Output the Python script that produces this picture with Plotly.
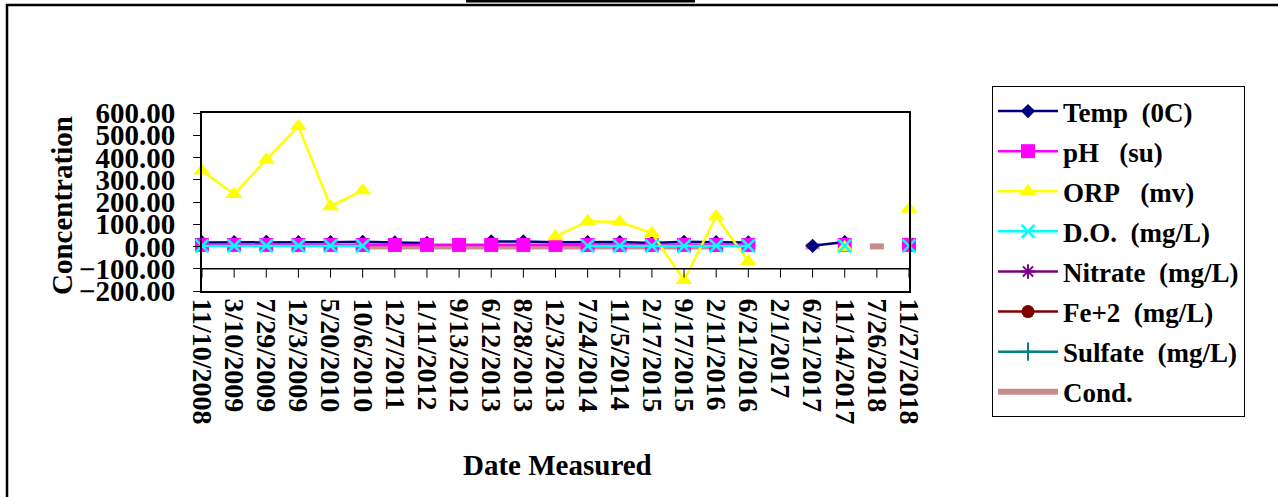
import plotly.graph_objects as go

# ---------------- data ----------------
dates = ["11/10/2008", "3/10/2009", "7/29/2009", "12/3/2009", "5/20/2010", "10/6/2010",
         "12/7/2011", "1/11/2012", "9/13/2012", "6/12/2013", "8/28/2013", "12/3/2013",
         "7/24/2014", "11/5/2014", "2/17/2015", "9/17/2015", "2/11/2016", "6/21/2016",
         "2/1/2017", "6/21/2017", "11/14/2017", "7/26/2018", "11/27/2018"]

temp = [18, 19, 21, 19, 19, 21, 18, 16, None, 23, 23, 19, 19, 20, 16, 21, 19, 18,
        None, 3, 20, None, None]
ph = [7.2, 7.0, 7.1, 7.0, 7.1, 7.0, 6.9, 7.0, 7.1, 7.0, 6.9, 7.0, 6.8, 6.9, 7.0, 7.1,
      6.9, 7.0, None, None, 7.0, None, 7.1]
orp = [340, 235, 390, 540, 180, 252, None, None, None, None, None, 45, 113, 110, 60,
       -152, 135, -67, None, None, -5, None, 168]
do = [2.5, 2.8, 3.0, 2.6, 2.9, 2.7, None, None, None, None, None, None, 2.5, 2.4, 2.6,
      2.2, 2.5, 2.8, None, None, 2.4, None, 2.6]
nitrate = [None] * len(dates)
fe2 = [None] * len(dates)
sulfate = [None] * len(dates)
cond = [None, None, None, None, None, 0.5, 0.5, 0.5, 0.5, 0.5, 0.5, 0.5, 0.5, 0.5, 0.5,
        0.5, 0.5, None, None, 0.5, None, 0.5, None]

y_ticks = [-200, -100, 0, 100, 200, 300, 400, 500, 600]

# ---------------- layout constants ----------------
W, H = 1278, 497
L, R, T, B = 202, 369, 113, 206
PW, PH = W - L - R, H - T - B


def px(x):
    return (x - L) / PW


def py(y):
    return (H - B - y) / PH


FONT = "Liberation Serif"

fig = go.Figure()


def add(name, y, color, symbol, size, rank, lw=2.5, mline=None, mode="lines+markers"):
    marker = dict(symbol=symbol, size=size, color=color)
    if mline is not None:
        marker["line"] = dict(color=color, width=mline)
    else:
        marker["line"] = dict(width=0)
    fig.add_trace(go.Scatter(
        x=dates, y=y, name=name, mode=mode,
        line=dict(color=color, width=lw),
        marker=marker, connectgaps=False, cliponaxis=False,
        legendgroup=name, legendrank=rank,
    ))


# Cond drawn first so the other series' markers sit on top of its thick line
add("Cond.", cond, "#C98C8C", "line-ew", 10, 8, lw=6, mline=6)
add("Temp\u00a0\u00a0(0C)", temp, "#000080", "diamond", 11, 1)
add("pH\u00a0\u00a0\u00a0(su)", ph, "#FF00FF", "square", 14, 2)
add("ORP\u00a0\u00a0\u00a0(mv)", orp, "#FFFF00", "triangle-up", 15, 3)
add("D.O.\u00a0\u00a0(mg/L)", do, "#00FFFF", "x-thin-open", 13, 4, mline=2.5)
add("Nitrate\u00a0\u00a0(mg/L)", nitrate, "#800080", "asterisk-open", 12, 5, mline=2)
add("Fe+2\u00a0\u00a0(mg/L)", fe2, "#800000", "circle", 13, 6)
add("Sulfate\u00a0\u00a0(mg/L)", sulfate, "#008080", "cross-thin-open", 13, 7, mline=2)

shapes = []
# horizontal category line at -100 with ticks hanging below
shapes.append(dict(type="line", xref="paper", yref="y", x0=0, x1=1, y0=-100, y1=-100,
                   line=dict(color="black", width=1.5)))
for d in dates:
    shapes.append(dict(type="line", xref="x", yref="y", x0=d, x1=d, y0=-100, y1=-140,
                       line=dict(color="black", width=1)))
# outer frame (top and left) and title underline
shapes.append(dict(type="line", xref="paper", yref="paper", x0=px(6), x1=px(W + 5),
                   y0=py(5), y1=py(5), line=dict(color="black", width=2.5)))
shapes.append(dict(type="line", xref="paper", yref="paper", x0=px(7), x1=px(7),
                   y0=py(4), y1=py(H + 5), line=dict(color="black", width=2.5)))
shapes.append(dict(type="rect", xref="paper", yref="paper", x0=px(466), x1=px(695),
                   y0=py(0), y1=py(2.5), fillcolor="black", line=dict(width=0)))

title_font = dict(family=FONT, size=29, color="black", weight="bold")
annotations = [
    dict(text="Concentration", xref="paper", yref="paper", x=px(62), y=py(206),
         xanchor="center", yanchor="middle", textangle=-90, showarrow=False,
         font=title_font),
    dict(text="Date Measured", xref="paper", yref="paper", x=px(557), y=py(465),
         xanchor="center", yanchor="middle", showarrow=False, font=title_font),
]

fig.update_layout(
    width=W, height=H,
    margin=dict(l=L, r=R, t=T, b=B, autoexpand=False),
    paper_bgcolor="white", plot_bgcolor="white",
    font=dict(family=FONT, color="black", size=26, weight="bold"),
    showlegend=True,
    legend=dict(
        x=px(992), y=py(86), xanchor="left", yanchor="top",
        bordercolor="black", borderwidth=1, bgcolor="white",
        font=dict(family=FONT, size=27, color="black", weight="bold"),
        traceorder="grouped", tracegroupgap=2, maxheight=420, itemwidth=60,
    ),
    shapes=shapes,
    annotations=annotations,
    xaxis=dict(
        type="category", categoryorder="array", categoryarray=dates,
        tickmode="array", tickvals=dates, ticktext=dates,
        range=[0, len(dates) - 1], tickangle=90, showgrid=False, ticks="",
        showline=True, linecolor="black", linewidth=2, mirror=True,
        tickfont=dict(family=FONT, size=28, color="black", weight="bold"),
        automargin=False, zeroline=False,
    ),
    yaxis=dict(
        range=[-200, 600], tickvals=y_ticks, tickformat=".2f",
        ticks="outside", ticklen=7, tickcolor="black", tickwidth=1,
        showline=True, linecolor="black", linewidth=2, mirror=True,
        showgrid=False, zeroline=False, automargin=False,
        tickfont=dict(family=FONT, size=29, color="black", weight="bold"),
        ticklabelstandoff=12,
    ),
)

fig.write_html("out.html")
